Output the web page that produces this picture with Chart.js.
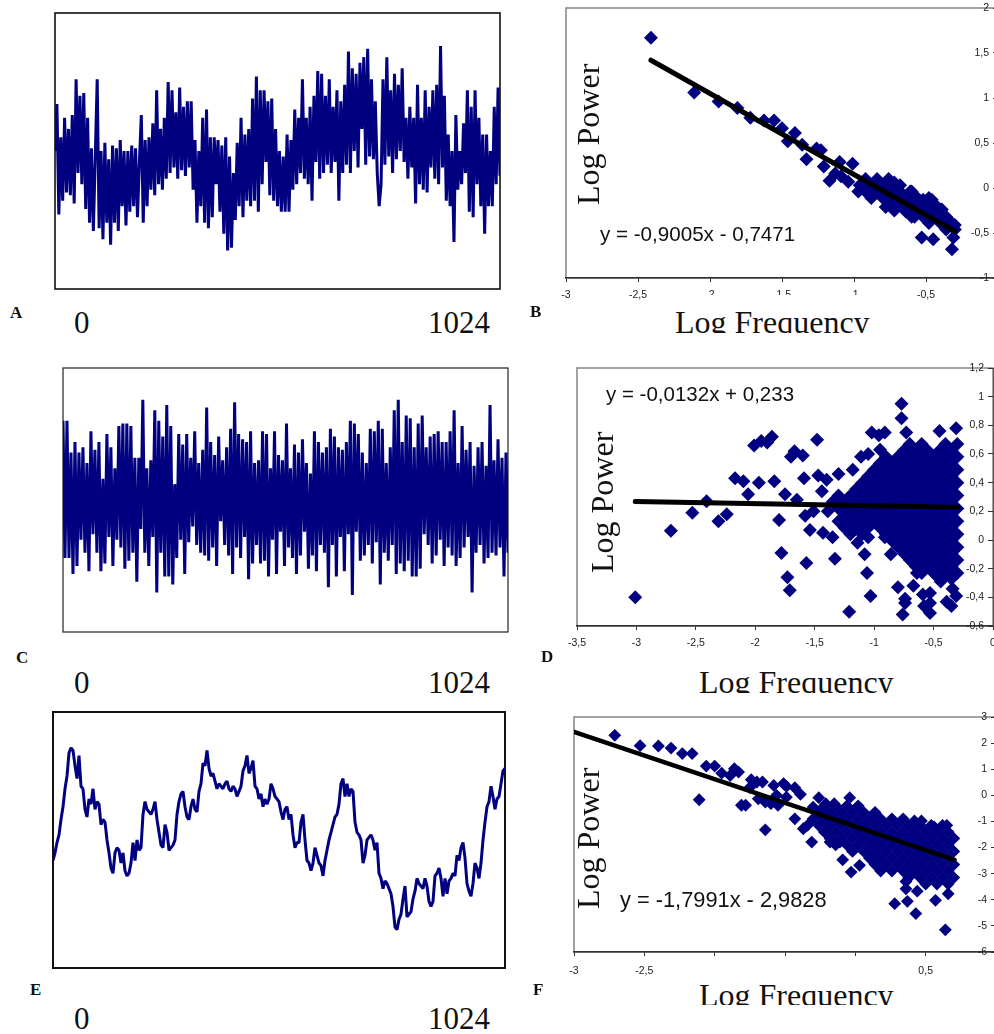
<!DOCTYPE html>
<html>
<head>
<meta charset="utf-8">
<script src="https://cdn.jsdelivr.net/npm/chart.js@4/dist/chart.umd.js"></script>
<style>
html, body { margin: 0; padding: 0; background: #fff; }
body { position: relative; width: 994px; height: 1034px; overflow: hidden; }
canvas { position: absolute; }
.t { position: absolute; white-space: nowrap; color: #111; }
.panel { font: bold 17px/17px "Liberation Serif", serif; }
.num { font: 31px/31px "Liberation Serif", serif; }
.power { font: 32px/32px "Liberation Serif", serif; transform-origin: left top; transform: rotate(-90deg); }
.eq { font: 21px/21px "Liberation Sans", sans-serif; }
.freq { position: absolute; background: #fff; overflow: hidden; font: 32px/32px "Liberation Serif", serif; color: #111; white-space: nowrap; }
.freq span { position: absolute; left: 0; }
</style>
</head>
<body>
<canvas id="chartA"></canvas>
<canvas id="chartB"></canvas>
<canvas id="chartC"></canvas>
<canvas id="chartD"></canvas>
<canvas id="chartE"></canvas>
<canvas id="chartF"></canvas>

<div class="t panel" style="left:10px;top:304px">A</div>
<div class="t panel" style="left:530px;top:303px">B</div>
<div class="t panel" style="left:16px;top:649px">C</div>
<div class="t panel" style="left:541px;top:648px">D</div>
<div class="t panel" style="left:30px;top:981px">E</div>
<div class="t panel" style="left:533px;top:981px">F</div>

<div class="t num" style="left:74px;top:307px">0</div>
<div class="t num" style="left:428px;top:307px">1024</div>
<div class="t num" style="left:74px;top:667px">0</div>
<div class="t num" style="left:428px;top:667px">1024</div>
<div class="t num" style="left:74px;top:1003px">0</div>
<div class="t num" style="left:428px;top:1003px">1024</div>

<div class="t power" style="left:572px;top:205px">Log Power</div>
<div class="t power" style="left:586px;top:573px">Log Power</div>
<div class="t power" style="left:572px;top:909px">Log Power</div>

<div class="t eq" style="left:600px;top:223px;font-size:20.6px">y = -0,9005x - 0,7471</div>
<div class="t eq" style="left:606px;top:383px;font-size:20.5px">y = -0,0132x + 0,233</div>
<div class="t eq" style="left:620px;top:889px;font-size:21.8px">y = -1,7991x - 2,9828</div>

<!-- the axis title boxes sit on top of the tick labels and cut the text, as in the original figure -->
<div class="freq" style="left:675px;top:295px;width:205px;height:38px"><span style="top:11px">Log Frequency</span></div>
<div class="freq" style="left:699px;top:666px;width:200px;height:27px"><span style="top:0">Log Frequency</span></div>
<div class="freq" style="left:699px;top:979px;width:200px;height:26px"><span style="top:0">Log Frequency</span></div>

<script>
// Time series (0 = bottom of the box, 100 = top)
const seriesA = [
  50,67,27,55,32,62,35,58,34,63, 31,76,42,70,38,71,29,62,24,51,
  21,48,76,22,50,18,53,24,47,16, 52,24,51,21,54,30,50,23,50,28,
  52,30,51,26,46,63,24,54,30,55, 36,60,34,72,38,58,36,62,40,75,
  42,72,44,64,40,73,43,66,41,68, 44,68,36,54,24,50,30,62,24,65,
  22,55,26,55,38,54,28,52,20,55, 14,48,15,42,25,53,30,62,26,56,
  32,58,30,69,32,77,28,72,38,72, 46,68,34,69,32,58,30,50,28,48,
  28,56,28,54,36,65,38,62,42,76, 40,62,38,66,32,70,46,79,40,78,
  42,70,45,76,42,66,46,72,32,68, 42,74,45,86,42,80,50,78,44,82,
  58,84,45,87,48,76,47,68,42,30, 38,76,45,84,48,72,42,78,47,74,
  50,80,46,62,40,66,44,62,31,74, 38,62,36,72,35,66,44,72,40,74,
  38,88,44,70,32,56,30,50,17,63, 36,50,38,60,42,72,28,66,26,72,
  38,62,30,56,20,56,30,50,30,66, 38,73,41
];

const seriesC = [
  80,28,80,28,68,22,72,25,68,35,70,30,64,23,76,37,69,30,72,23,
  58,26,75,36,70,25,62,35,78,32,79,24,79,27,78,30,66,19,66,39,
  88,30,62,25,65,36,84,15,80,30,74,21,86,21,78,18,56,28,75,35,
  71,22,75,34,66,40,76,33,64,30,69,29,85,27,72,32,67,25,74,42,
  65,33,70,29,77,22,87,32,75,28,73,36,72,20,76,26,64,33,65,26,
  76,27,75,21,62,35,76,22,67,38,65,25,79,32,62,28,71,22,68,29,
  73,38,64,24,60,29,76,23,72,33,68,30,70,17,77,33,74,21,70,36,
  69,23,72,37,80,14,79,38,75,27,68,29,64,33,77,26,76,34,80,18,
  77,30,64,27,70,33,84,22,88,26,72,23,82,27,81,21,70,21,79,24,
  82,37,70,33,74,26,75,29,76,35,72,25,72,32,76,29,84,25,64,28,
  78,32,69,36,72,15,63,30,70,33,72,26,63,28,86,30,65,29,73,32,
  66,21,68,30
];

const seriesE = [
  42,45,49,52,58,63,70,75,84,86,85,79,74,83,71,70,62,59,66,64,70,62,65,64,56,58,57,50,45,39,
  37,45,47,46,41,45,38,36,37,41,49,42,50,46,47,60,65,62,61,60,62,65,58,53,48,47,56,53,46,47,
  48,50,60,65,68,69,63,59,58,63,66,62,61,69,72,80,79,85,78,75,76,73,70,72,71,70,72,73,70,69,
  71,70,67,69,71,77,79,83,76,78,81,71,70,66,68,63,66,64,66,72,70,67,66,65,61,58,62,63,58,60,
  52,47,49,49,57,60,50,42,41,38,41,47,44,41,40,36,42,46,50,53,56,59,60,64,72,74,67,72,67,70,
  69,57,53,52,50,41,44,50,51,52,50,46,49,37,35,31,34,33,31,29,24,16,15,19,21,27,32,20,21,22,
  27,30,35,33,32,31,35,32,26,24,26,36,37,39,35,28,35,29,34,35,37,36,44,42,47,49,43,33,30,28,
  33,41,39,35,41,50,57,63,65,71,67,62,66,67,72,77,78
];

// Scatter panels: single points as [x, y], dense parts as rows [y, x, x, x, ...]
const pointsB = [
  [-2.41,1.67],[-2.11,1.06],[-1.94,.96],[-1.81,.89],[-1.72,.78],[-1.625,.75],[-1.555,.75],[-1.5,.665],[-1.41,.61],[-1.46,.52],
  [-1.36,.48],[-1.33,.32],[-1.26,.44],[-1.23,.42],[-1.21,.24],[-1.17,.08],[-1.1,.29],[-1.01,.27],[-1.13,.16],[-1.09,.13],
  [-1.04,.07],[-.97,-.04],[-.72,.06],[-.78,-.21],[-.71,-.23],[-.64,-.26],[-.58,-.32],[-.61,-.04],[-.52,-.13],[-.46,-.13],
  [-.39,-.24],[-.3,-.41],[-.53,-.55],[-.45,-.57],[-.31,-.55],[-.32,-.68]
];
const rowsB = [
  [.1,-.92,-.84,-.76],
  [.03,-.96,-.88,-.8,-.72,-.68],
  [-.04,-.92,-.84,-.76,-.68,-.6],
  [-.11,-.88,-.8,-.72,-.64,-.56,-.48],
  [-.18,-.76,-.68,-.6,-.52,-.44],
  [-.25,-.72,-.64,-.56,-.48,-.4],
  [-.32,-.6,-.52,-.44,-.36],
  [-.39,-.48,-.4,-.32],
  [-.46,-.36,-.3]
];
const trendBx = [-2.41, -.3];
const trendBy = [1.42, -.48];

const pointsD = [
  [-3.01,-.4],[-2.71,.065],[-2.53,.19],[-2.41,.27],[-2.31,.13],[-2.24,.18],[-2.17,.43],[-2.1,.41],[-2.06,.32],[-1.97,.4],
  [-2.01,.66],[-1.95,.69],[-1.9,.68],[-1.86,.72],[-1.84,.41],[-1.75,.32],[-1.8,.14],[-1.78,-.09],[-1.73,-.26],[-1.71,-.35],
  [-1.7,.58],[-1.67,.62],[-1.6,.59],[-1.48,.7],[-1.59,.43],[-1.47,.45],[-1.4,.42],[-1.3,.46],[-1.44,.34],[-1.65,.28],
  [-1.58,.17],[-1.54,.07],[-1.57,-.16],[-1.33,-.13],[-1.43,.05],[-1.35,.02],[-1.51,.2],[-1.39,.2],[-1.22,.09],
  [-1.18,.49],[-1.11,.58],[-1.05,.6],[-1.02,.75],[-.96,.73],[-.91,.75],[-.95,.63],[-.77,.95],[-.77,.85],[-.73,.75],
  [-.45,.76],[-.31,.78],[-1.14,-.02],[-1.08,-.1],[-1.05,.02],[-1.06,-.23],[-1.03,-.39],[-1.21,-.5],[-.86,-.1],[-.91,.02],
  [-.8,-.33],[-.67,-.32],[-.74,-.41],[-.74,-.44],[-.76,-.52],[-.64,-.23],[-.59,-.38],[-.53,-.37],[-.53,-.44],[-.58,-.46],
  [-.53,-.51],[-.39,-.43],[-.35,-.46],[-.31,-.39],[-.34,-.34],[-.44,-.29],[-.37,-.23]
];
const rowsD = [
  [.67,-.7,-.6,-.4,-.3],
  [.625,-.75,-.65,-.55,-.45,-.35],
  [.58,-.9,-.8,-.7,-.6,-.5,-.4,-.3],
  [.535,-.95,-.85,-.75,-.65,-.55,-.45,-.35],
  [.49,-1,-.9,-.8,-.7,-.6,-.5,-.4,-.3],
  [.445,-1.05,-.95,-.85,-.75,-.65,-.55,-.45,-.35],
  [.4,-1.1,-1,-.9,-.8,-.7,-.6,-.5,-.4,-.3],
  [.355,-1.15,-1.05,-.95,-.85,-.75,-.65,-.55,-.45,-.35],
  [.31,-1.3,-1.2,-1.1,-1,-.9,-.8,-.7,-.6,-.5,-.4,-.3],
  [.265,-1.35,-1.25,-1.15,-1.05,-.95,-.85,-.75,-.65,-.55,-.45,-.35],
  [.22,-1.3,-1.2,-1.1,-1,-.9,-.8,-.7,-.6,-.5,-.4,-.3],
  [.175,-1.25,-1.15,-1.05,-.95,-.85,-.75,-.65,-.55,-.45,-.35],
  [.13,-1.3,-1.2,-1.1,-1,-.9,-.8,-.7,-.6,-.5,-.4,-.3],
  [.085,-1.25,-1.15,-1.05,-.95,-.85,-.75,-.65,-.55,-.45,-.35],
  [.04,-1.2,-1.1,-.9,-.8,-.7,-.6,-.5,-.4,-.3],
  [-.005,-.85,-.75,-.65,-.55,-.45,-.35],
  [-.05,-.8,-.7,-.6,-.5,-.4,-.3],
  [-.095,-.75,-.65,-.55,-.45,-.35],
  [-.14,-.7,-.6,-.5,-.4,-.3],
  [-.185,-.65,-.55,-.45,-.35],
  [-.23,-.6,-.5,-.4,-.3],
  [-.27,-.45,-.35]
];
const trendDx = [-3.01, -.295];
const trendDy = [.268, .228];

const pointsF = [
  [-2.71,2.3],[-2.53,1.9],[-2.4,1.89],[-2.31,1.81],[-2.23,1.6],[-2.16,1.6],[-2.06,1.12],[-2,1.12],[-2.11,-.17],[-1.95,.85],
  [-1.89,.76],[-1.86,1.02],[-1.83,.89],[-1.81,-.38],[-1.78,-.38],[-1.74,.6],[-1.7,.51],[-1.66,.51],[-1.64,-1.32],[-1.58,.38],
  [-1.51,.45],[-1.49,.34],[-1.43,.29],[-1.39,.04],[-1.69,-.13],[-1.64,-.26],[-1.6,-.32],[-1.55,-.38],[-1.75,.3],[-1.56,0],
  [-1.49,-.07],[-1.43,-.9],[-1.37,-1.28],[-1.31,-1.79],[-1.26,-.09],[-1.3,-.45],[-1.21,-.32],[-1.15,-.32],[-1.04,-.09],[-1.18,-1.79],
  [-1.11,-1.79],[-1.09,-2.47],[-1.03,-2.94],[-.97,-2.68],[-.64,-3.3],[-.64,-3.58],[-.56,-3.67],[-.72,-4.15],[-.63,-4.06],[-.57,-4.53],
  [-.43,-4.02],[-.34,-3.77],[-.36,-5.15],[-.35,-1.15],[-.44,-1.21],[-.53,-.98],[-.58,-.98]
];
const rowsF = [
  [-.4,-1.22,-1.14,-1.06,-.98],
  [-.65,-1.26,-1.18,-1.1,-1.02,-.94,-.86],
  [-.9,-1.3,-1.22,-1.14,-1.06,-.98,-.9,-.82,-.74,-.66],
  [-1.15,-1.34,-1.26,-1.18,-1.1,-1.02,-.94,-.86,-.78,-.7,-.62,-.54,-.46,-.38],
  [-1.4,-1.22,-1.14,-1.06,-.98,-.9,-.82,-.74,-.66,-.58,-.5,-.42,-.34],
  [-1.65,-1.18,-1.1,-1.02,-.94,-.86,-.78,-.7,-.62,-.54,-.46,-.38,-.3],
  [-1.9,-1.14,-1.06,-.98,-.9,-.82,-.74,-.66,-.58,-.5,-.42,-.34],
  [-2.15,-1.02,-.94,-.86,-.78,-.7,-.62,-.54,-.46,-.38,-.3],
  [-2.4,-.9,-.82,-.74,-.66,-.58,-.5,-.42,-.34],
  [-2.65,-.86,-.78,-.7,-.62,-.54,-.46,-.38,-.3],
  [-2.9,-.82,-.74,-.66,-.58,-.5,-.42,-.34],
  [-3.15,-.62,-.54,-.46,-.38,-.3],
  [-3.4,-.5,-.42,-.34]
];
const trendFx = [-3, -.295];
const trendFy = [2.43, -2.47];

// Tick labels (comma decimals, as printed). F has the middle ones hidden in the original
const xTicksB = ['-3','-2,5','-2','-1,5','-1','-0,5','0'];
const yTicksB = ['-1','-0,5','0','0,5','1','1,5','2'];
const xTicksD = ['-3,5','-3','-2,5','-2','-1,5','-1','-0,5','0'];
const yTicksD = ['-0,6','-0,4','-0,2','0','0,2','0,4','0,6','0,8','1','1,2'];
const xTicksF = ['-3','-2,5','','','','0,5',''];
const yTicksF = ['-6','-5','-4','-3','-2','-1','0','1','2','3'];

const navy = '#000080';

// draws the box round the plot area
const framePlugin = {
  id: 'frame',
  beforeDraw(chart, args, opts) {
    const { ctx, chartArea: a } = chart;
    ctx.save();
    ctx.strokeStyle = opts.color;
    ctx.lineWidth = opts.width;
    ctx.strokeRect(a.left, a.top, a.right - a.left, a.bottom - a.top);
    ctx.restore();
  }
};
Chart.register(framePlugin);
Chart.defaults.animation = false;

// sizes the canvas so that the plot area lands on the given box
function place(id, box, pad) {
  const c = document.getElementById(id);
  c.width = box.w + pad.left + pad.right;
  c.height = box.h + pad.top + pad.bottom;
  c.style.left = (box.x - pad.left) + 'px';
  c.style.top = (box.y - pad.top) + 'px';
  return c;
}

function timeChart(id, box, ys, frame, lineWidth) {
  const pad = { left: 3, right: 3, top: 3, bottom: 3 };
  new Chart(place(id, box, pad), {
    type: 'line',
    data: { datasets: [{
      data: ys.map((y, i) => ({ x: i, y })),
      borderColor: navy, borderWidth: lineWidth, borderJoinStyle: 'bevel',
      pointRadius: 0, tension: 0
    }] },
    options: {
      responsive: false,
      layout: { padding: pad },
      plugins: { legend: { display: false }, tooltip: { enabled: false }, frame },
      scales: {
        x: { type: 'linear', display: false, min: 0, max: ys.length - 1 },
        y: { display: false, min: 0, max: 100 }
      }
    }
  });
}

function scatterChart(id, box, cfg) {
  const pad = { left: 30, right: 20, top: 12, bottom: 0 };
  const rowPoints = cfg.rows.flatMap(r => r.slice(1).map(x => ({ x, y: r[0] })));
  const points = cfg.points.map(p => ({ x: p[0], y: p[1] })).concat(rowPoints);
  new Chart(place(id, { x: box.x, y: box.y, w: box.w, h: box.h + 32 }, pad), {
    type: 'scatter',
    data: { datasets: [
      {
        type: 'line',
        data: cfg.trendX.map((x, i) => ({ x, y: cfg.trendY[i] })),
        borderColor: '#000', borderWidth: cfg.trendWidth, borderCapStyle: 'round',
        pointRadius: 0, order: 0
      },
      {
        data: points, pointStyle: 'rectRot', pointRadius: cfg.radius,
        backgroundColor: navy, borderWidth: 0, order: 1
      }
    ] },
    options: {
      responsive: false,
      layout: { padding: pad },
      plugins: { legend: { display: false }, tooltip: { enabled: false }, frame: { color: '#8c8c8c', width: 1.6 } },
      scales: {
        x: {
          type: 'linear', min: cfg.xMin, max: cfg.xMax,
          afterFit(s) { s.height = 32; },
          border: { color: '#333', width: 1.4 },
          grid: { drawOnChartArea: false, tickLength: 4, color: '#333' },
          ticks: {
            stepSize: .5, autoSkip: false, maxRotation: 0, padding: cfg.xPad, color: '#222',
            font: { family: 'Liberation Sans', size: 10.5 },
            callback: (v, i) => cfg.xTicks[i]
          }
        },
        y: {
          position: 'right', min: cfg.yMin, max: cfg.yMax,
          afterFit(s) { s.width = 0; },
          border: { color: '#555', width: 1 },
          grid: { drawOnChartArea: false, tickLength: -5, color: '#333' },
          ticks: {
            mirror: true, stepSize: cfg.yStep, autoSkip: false, padding: -9, color: '#222',
            font: { family: 'Liberation Sans', size: 10.5 },
            callback: (v, i) => cfg.yTicks[i]
          }
        }
      }
    }
  });
}

timeChart('chartA', { x: 55, y: 13, w: 445, h: 276 }, seriesA, { color: '#111', width: 1.6 }, 3);
timeChart('chartC', { x: 63, y: 368, w: 445, h: 264 }, seriesC, { color: '#222', width: 1.2 }, 3);
timeChart('chartE', { x: 53, y: 712, w: 452, h: 256 }, seriesE, { color: '#111', width: 2 }, 3);

scatterChart('chartB', { x: 566, y: 8, w: 432, h: 270 }, {
  points: pointsB, rows: rowsB, trendX: trendBx, trendY: trendBy, trendWidth: 5, radius: 7,
  xMin: -3, xMax: 0, xTicks: xTicksB, xPad: 7, yMin: -1, yMax: 2, yStep: .5, yTicks: yTicksB
});
scatterChart('chartD', { x: 577, y: 368, w: 416, h: 258 }, {
  points: pointsD, rows: rowsD, trendX: trendDx, trendY: trendDy, trendWidth: 5, radius: 7,
  xMin: -3.5, xMax: 0, xTicks: xTicksD, xPad: 7, yMin: -.6, yMax: 1.2, yStep: .2, yTicks: yTicksD
});
scatterChart('chartF', { x: 574, y: 717, w: 422, h: 235 }, {
  points: pointsF, rows: rowsF, trendX: trendFx, trendY: trendFy, trendWidth: 4.5, radius: 6.4,
  xMin: -3, xMax: 0, xTicks: xTicksF, xPad: 9, yMin: -6, yMax: 3, yStep: 1, yTicks: yTicksF
});
</script>
</body>
</html>
